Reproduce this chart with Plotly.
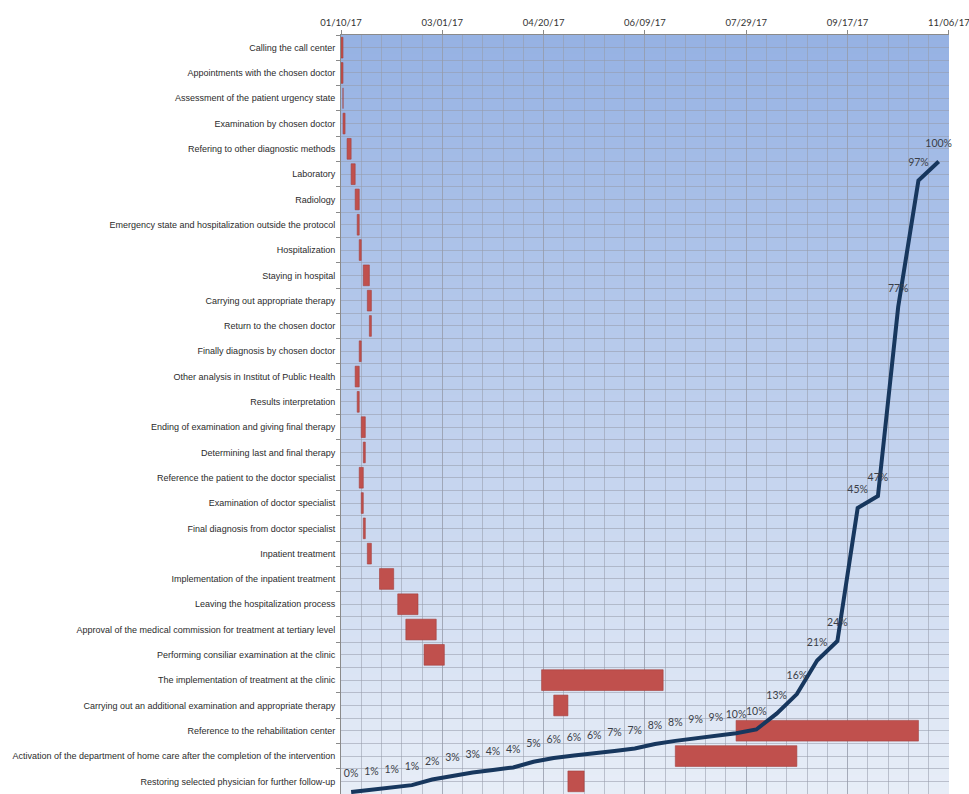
import plotly.graph_objects as go

# ---------------- data ----------------
tasks = [
    "Calling the call center",
    "Appointments with the chosen doctor",
    "Assessment of the patient urgency state",
    "Examination by chosen doctor",
    "Refering to other diagnostic methods",
    "Laboratory",
    "Radiology",
    "Emergency state and hospitalization outside the protocol",
    "Hospitalization",
    "Staying in hospital",
    "Carrying out appropriate therapy",
    "Return to the chosen doctor",
    "Finally diagnosis by chosen doctor",
    "Other analysis in Institut of Public Health",
    "Results interpretation",
    "Ending of examination and giving final therapy",
    "Determining last and final therapy",
    "Reference the patient to the doctor specialist",
    "Examination of doctor specialist",
    "Final diagnosis from doctor specialist",
    "Inpatient treatment",
    "Implementation of the inpatient treatment",
    "Leaving the hospitalization process",
    "Approval of the medical commission for treatment at tertiary level",
    "Performing consiliar examination at the clinic",
    "The implementation of treatment at the clinic",
    "Carrying out an additional examination and appropriate therapy",
    "Reference to the rehabilitation center",
    "Activation of the department of home care after the completion of the intervention",
    "Restoring selected physician for further follow-up",
]

start_dates = [
    "2017-01-10", "2017-01-10", "2017-01-11", "2017-01-11", "2017-01-13",
    "2017-01-15", "2017-01-17", "2017-01-18", "2017-01-19", "2017-01-21",
    "2017-01-23", "2017-01-24", "2017-01-19", "2017-01-17", "2017-01-18",
    "2017-01-20", "2017-01-21", "2017-01-19", "2017-01-20", "2017-01-21",
    "2017-01-23", "2017-01-29", "2017-02-07", "2017-02-11", "2017-02-20",
    "2017-04-19", "2017-04-25", "2017-07-24", "2017-06-24", "2017-05-02",
]

duration_days = [
    1, 1, 0, 1, 2,
    2, 2, 1, 1, 3,
    2, 1, 1, 2, 1,
    2, 1, 2, 1, 1,
    2, 7, 10, 15, 10,
    60, 7, 90, 60, 8,
]

curve_dates = [
    "2017-01-15", "2017-01-25", "2017-02-04", "2017-02-14", "2017-02-24",
    "2017-03-06", "2017-03-16", "2017-03-26", "2017-04-05", "2017-04-15",
    "2017-04-25", "2017-05-05", "2017-05-15", "2017-05-25", "2017-06-04",
    "2017-06-14", "2017-06-24", "2017-07-04", "2017-07-14", "2017-07-24",
    "2017-08-03", "2017-08-13", "2017-08-23", "2017-09-02", "2017-09-12",
    "2017-09-22", "2017-10-02", "2017-10-12", "2017-10-22", "2017-11-01",
]

curve_values = [
    0.3, 0.7, 1.0, 1.4, 2.3, 2.9, 3.4, 3.8, 4.2, 5.1,
    5.7, 6.1, 6.4, 6.8, 7.2, 7.9, 8.4, 8.8, 9.2, 9.6,
    10.2, 12.7, 15.8, 21.1, 24.2, 45.2, 47.1, 77.0, 97.0, 100.0,
]

curve_labels = [
    "0%", "1%", "1%", "1%", "2%", "3%", "3%", "4%", "4%", "5%",
    "6%", "6%", "6%", "7%", "7%", "8%", "8%", "9%", "9%", "10%",
    "10%", "13%", "16%", "21%", "24%", "45%", "47%", "77%", "97%", "100%",
]

tick_dates = ["2017-01-10", "2017-03-01", "2017-04-20", "2017-06-09",
              "2017-07-29", "2017-09-17", "2017-11-06"]
tick_text = ["01/10/17", "03/01/17", "04/20/17", "06/09/17",
             "07/29/17", "09/17/17", "11/06/17"]

# ---------------- figure ----------------
DAY_MS = 86400000
FONT = "Liberation Sans, Arial, sans-serif"
FONT2 = "Lato, Liberation Sans, sans-serif"
GRID = "rgba(150,155,170,0.55)"

fig = go.Figure()

# gradient background of the plot area
n_bands = 120
top_c = (150, 178, 227)
bot_c = (231, 237, 247)
for i in range(n_bands):
    t = i / (n_bands - 1)
    c = tuple(round(top_c[k] + (bot_c[k] - top_c[k]) * t) for k in range(3))
    fig.add_shape(type="rect", xref="x domain", yref="y domain",
                  x0=0, x1=1, y0=1 - (i + 1) / n_bands - 0.001, y1=1 - i / n_bands,
                  fillcolor="rgb(%d,%d,%d)" % c, line_width=0, layer="below")

fig.add_trace(go.Bar(
    y=tasks,
    x=[d * DAY_MS for d in duration_days],
    base=start_dates,
    orientation="h",
    width=0.82,
    marker=dict(color="#C0504D", line=dict(color="#A53E3B", width=0.6)),
    showlegend=False,
    hoverinfo="skip",
))

fig.add_trace(go.Scatter(
    x=curve_dates,
    y=curve_values,
    yaxis="y2",
    mode="lines+markers+text",
    text=curve_labels,
    textposition="top center",
    textfont=dict(family=FONT2, size=10.5, color="#3b3f48"),
    line=dict(color="#17375E", width=4),
    marker=dict(size=18, color="rgba(0,0,0,0)"),
    cliponaxis=False,
    showlegend=False,
))

fig.update_layout(
    width=969,
    height=794,
    margin=dict(l=341, r=20, t=35, b=0),
    paper_bgcolor="white",
    plot_bgcolor="rgba(0,0,0,0)",
    xaxis=dict(
        type="date",
        range=["2017-01-10", "2017-11-06 02:00"],
        side="top",
        automargin=False,
        tickvals=tick_dates,
        ticktext=tick_text,
        ticklabeloverflow="allow",
        tickfont=dict(family=FONT2, size=9.5, color="#333333"),
        showgrid=True,
        gridcolor=GRID,
        gridwidth=1,
        minor=dict(dtick=10 * DAY_MS, tick0="2017-01-10", showgrid=True,
                   gridcolor=GRID, gridwidth=1),
        showline=True,
        linecolor="#8a8a8a",
        linewidth=1,
        ticks="outside",
        ticklen=4,
        tickcolor="#8a8a8a",
        zeroline=False,
    ),
    yaxis=dict(
        type="category",
        categoryorder="array",
        categoryarray=tasks,
        range=[29.5, -0.5],
        automargin=False,
        showgrid=False,
        showline=True,
        linecolor="#8a8a8a",
        ticks="outside",
        tickson="boundaries",
        ticklen=4,
        tickcolor="#8a8a8a",
        tickfont=dict(family=FONT, size=9, color="#2b2b2b"),
        ticklabelstandoff=3,
    ),
    yaxis2=dict(
        overlaying="y",
        side="right",
        range=[0, 120],
        dtick=2,
        automargin=False,
        showgrid=True,
        gridcolor=GRID,
        gridwidth=1,
        showticklabels=False,
        showline=False,
        zeroline=False,
        ticks="",
    ),
)

fig.write_html("out.html")
